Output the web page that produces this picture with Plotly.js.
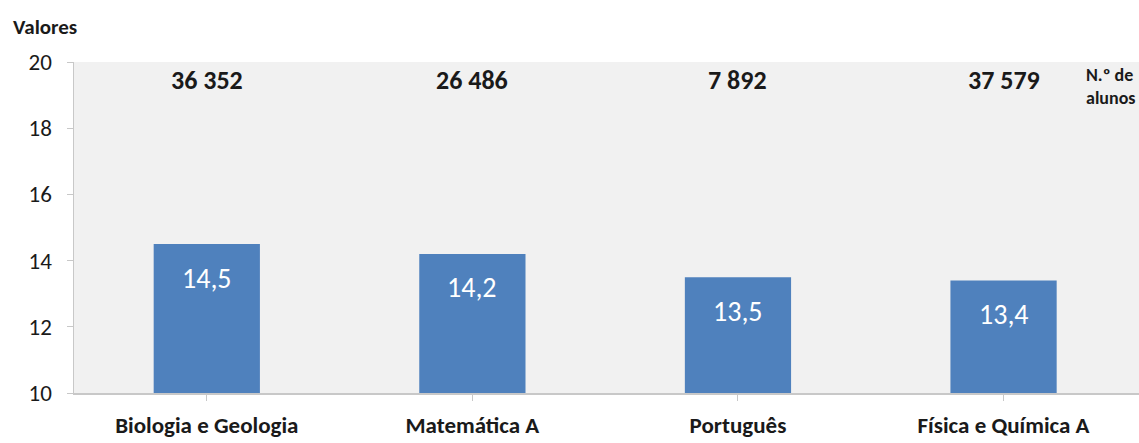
<!DOCTYPE html>
<html>
<head>
<meta charset="utf-8">
<script src="https://cdn.plot.ly/plotly-3.0.1.min.js"></script>
<style>html,body{margin:0;padding:0;background:#fff;}#chart{width:1139px;height:443px;}</style>
</head>
<body>
<div id="chart"></div>
<script>
const categories = ["Biologia e Geologia", "Matemática A", "Português", "Física e Química A"];
const medias = [14.5, 14.2, 13.5, 13.4];
const mediaLabels = ["14,5", "14,2", "13,5", "13,4"];
const alunos = ["36 352", "26 486", "7 892", "37 579"];
const yTicks = [10, 12, 14, 16, 18, 20];

const FONT = "Carlito, Lato, 'Open Sans', sans-serif";

const trace = {
  type: "bar",
  x: categories,
  y: medias,
  width: 0.4,
  marker: {color: "#4f81bd"},
  hoverinfo: "none"
};

const annotations = [];
categories.forEach((c, i) => {
  annotations.push({
    x: c, y: medias[i], xref: "x", yref: "y",
    text: mediaLabels[i], showarrow: false,
    yanchor: "middle", yshift: -34,
    font: {family: FONT, size: 28, color: "#ffffff"}
  });
  annotations.push({
    x: c, y: 1, xref: "x", yref: "paper",
    text: "<b>" + alunos[i] + "</b>", showarrow: false,
    yanchor: "middle", yshift: -18,
    font: {family: FONT, size: 26, color: "#1a1a1a"}
  });
});
annotations.push({
  x: 0.948, y: 1, xref: "paper", yref: "paper",
  text: "<b>N.º de<br>alunos</b>", showarrow: false,
  xanchor: "left", yanchor: "top", align: "left", yshift: 0,
  font: {family: FONT, size: 18, color: "#1a1a1a"}
});
annotations.push({
  x: 0, y: 1, xref: "paper", yref: "paper",
  text: "<b>Valores</b>", showarrow: false,
  xanchor: "left", yanchor: "middle", xshift: -63, yshift: 35,
  font: {family: FONT, size: 21, color: "#1a1a1a"}
});

const layout = {
  width: 1139, height: 443,
  margin: {l: 74, r: 0, t: 62, b: 50},
  paper_bgcolor: "#ffffff",
  plot_bgcolor: "#f1f1f1",
  showlegend: false,
  xaxis: {
    type: "category",
    range: [-0.5, 3.51],
    showline: true, linecolor: "#c8c8c8", linewidth: 1.5,
    ticks: "outside", ticklen: 6, tickcolor: "#c8c8c8",
    ticklabelstandoff: 5,
    showgrid: false, zeroline: false,
    tickfont: {family: FONT, size: 23, color: "#1a1a1a", weight: "bold"}
  },
  yaxis: {
    range: [10, 20],
    tickvals: yTicks,
    ticktext: yTicks.map(String),
    showline: true, linecolor: "#c8c8c8", linewidth: 1.5,
    ticks: "outside", ticklen: 6, tickcolor: "#c8c8c8",
    ticklabelstandoff: 10,
    showgrid: false, zeroline: false,
    tickfont: {family: FONT, size: 23, color: "#1a1a1a"}
  },
  annotations: annotations,
  bargap: 0.6
};

Plotly.newPlot("chart", [trace], layout, {displayModeBar: false, staticPlot: true});
</script>
</body>
</html>
